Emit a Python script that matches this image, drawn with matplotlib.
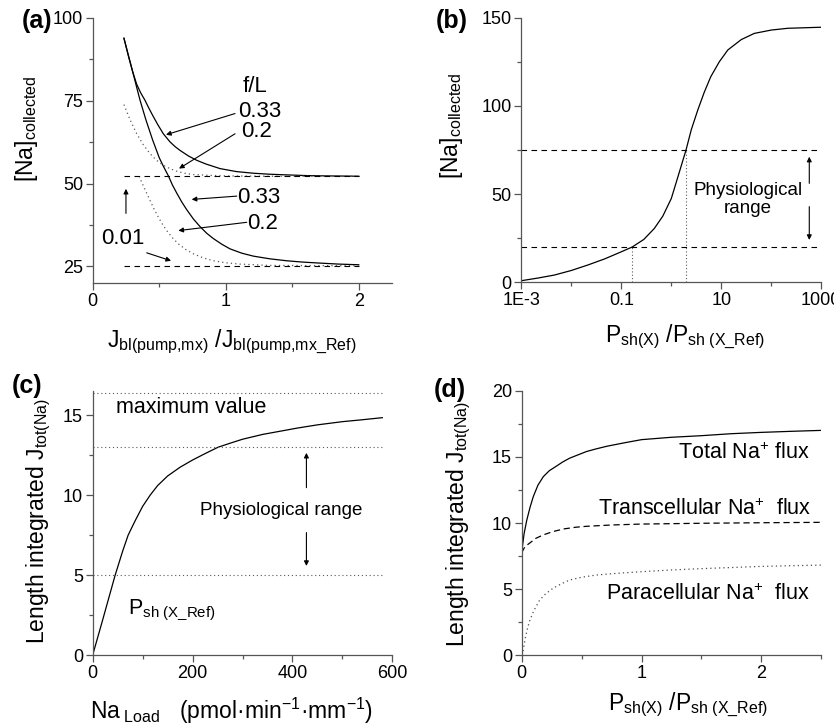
import matplotlib
matplotlib.use('Agg')
import matplotlib.pyplot as plt
from matplotlib.ticker import FixedLocator, FixedFormatter, NullFormatter

plt.rcParams['font.family'] = ['Liberation Sans', 'DejaVu Sans']
plt.rcParams['mathtext.fontset'] = 'custom'
plt.rcParams['mathtext.rm'] = 'Liberation Sans'
plt.rcParams['mathtext.it'] = 'Liberation Sans:italic'
plt.rcParams['mathtext.bf'] = 'Liberation Sans:bold'
plt.rcParams['mathtext.sf'] = 'Liberation Sans'

# ---- panel (a): [Na]collected vs pump ratio
a_hi_solid_x = [0.235, 0.27, 0.30, 0.33, 0.36, 0.393, 0.42, 0.45, 0.49, 0.531, 0.58, 0.62, 0.656,
                0.72, 0.782, 0.85, 0.957, 1.08, 1.208, 1.33, 1.46, 1.6, 1.75, 2.0]
a_hi_solid_y = [93.8, 88.2, 83.8, 80.0, 77.4, 75.1, 72.9, 70.6, 67.7, 65.0, 62.6, 61.1, 60.0,
                58.3, 57.0, 55.9, 54.5, 53.6, 53.1, 52.8, 52.6, 52.4, 52.3, 52.2]
a_lo_solid_x = [0.235, 0.27, 0.30, 0.33, 0.356, 0.40, 0.45, 0.50, 0.53, 0.569, 0.60, 0.632, 0.67,
                0.707, 0.757, 0.807, 0.857, 0.907, 0.97, 1.032, 1.12, 1.208, 1.33, 1.459, 1.58,
                1.709, 1.85, 2.0]
a_lo_solid_y = [93.8, 88.4, 83.8, 79.1, 75.1, 69.2, 63.2, 57.8, 55.3, 52.3, 49.5, 47.1, 44.4,
                42.1, 39.3, 37.0, 35.0, 33.4, 31.7, 30.3, 29.0, 28.1, 27.3, 26.7, 26.3,
                26.0, 25.7, 25.5]
a_hi_dot_x = [0.235, 0.28, 0.331, 0.38, 0.431, 0.48, 0.531, 0.58, 0.632, 0.69, 0.757, 0.88, 1.0, 1.3, 2.0]
a_hi_dot_y = [73.8, 69.3, 65.0, 61.7, 59.0, 57.0, 55.5, 54.5, 53.7, 53.1, 52.7, 52.45, 52.3, 52.2, 52.2]
a_lo_dot_x = [0.35, 0.368, 0.40, 0.431, 0.46, 0.494, 0.525, 0.556, 0.60, 0.644, 0.70, 0.757, 0.83,
              0.907, 1.0, 1.107, 1.33, 2.0]
a_lo_dot_y = [52.2, 50.4, 47.6, 44.9, 42.4, 39.8, 37.7, 35.8, 33.6, 31.8, 30.1, 28.8, 27.6,
              26.7, 26.1, 25.7, 25.3, 25.2]
a_dash_x = [0.235, 2.0]
a_dash_hi = 52.2
a_dash_lo = 25.2

# ---- panel (b): [Na]collected vs Psh ratio
b_x = [0.001, 0.00214, 0.00457, 0.01, 0.0214, 0.0468, 0.1, 0.165, 0.282, 0.457, 0.676, 1.0,
       1.38, 1.97, 2.51, 3.39, 4.57, 6.17, 9.12, 13.5, 25.1, 45.7, 100, 214, 1000]
b_y = [0.9, 2.4, 4.1, 6.7, 9.8, 13.3, 17.3, 20.0, 24.3, 30.5, 37.5, 47.5,
       60.5, 75.0, 86.5, 97.7, 107.8, 116.6, 125.0, 131.7, 137.6, 141.1, 143.0, 144.0, 144.6]
b_range = [20, 75]
b_cross_x = [0.165, 1.97]

# ---- panel (c): length integrated flux vs Na load
c_x = [0, 20, 45, 60, 71, 85, 100, 115, 130, 150, 175, 200, 225, 251, 275, 300, 340, 375,
       410, 450, 500, 540, 580]
c_y = [0, 2.2, 5.0, 6.5, 7.5, 8.4, 9.3, 10.0, 10.6, 11.2, 11.75, 12.2, 12.6, 13.0, 13.25,
       13.5, 13.8, 14.0, 14.2, 14.4, 14.6, 14.72, 14.85]
c_levels = [16.4, 13.0, 5.0]

# ---- panel (d): fluxes vs Psh ratio
d_tot_x = [0, 0.01, 0.02, 0.042, 0.07, 0.097, 0.135, 0.18, 0.23, 0.29, 0.34, 0.40, 0.47, 0.54,
           0.62, 0.71, 0.85, 1.0, 1.25, 1.5, 1.75, 2.0, 2.25, 2.5]
d_tot_y = [7.75, 8.5, 9.2, 10.2, 11.2, 12.0, 12.85, 13.5, 13.95, 14.3, 14.6, 14.9, 15.15, 15.4,
           15.6, 15.8, 16.05, 16.3, 16.48, 16.6, 16.75, 16.85, 16.93, 17.0]
d_trans_x = [0, 0.02, 0.04, 0.069, 0.12, 0.18, 0.26, 0.35, 0.45, 0.54, 0.75, 1.0, 1.5, 2.0, 2.5]
d_trans_y = [7.75, 8.1, 8.3, 8.5, 8.85, 9.1, 9.35, 9.55, 9.68, 9.75, 9.85, 9.92, 9.98, 10.02, 10.05]
d_para_x = [0, 0.013, 0.03, 0.05, 0.069, 0.1, 0.15, 0.2, 0.26, 0.33, 0.40, 0.5, 0.625, 0.8,
            1.0, 1.25, 1.5, 2.0, 2.5]
d_para_y = [0.0, 0.4, 1.3, 2.1, 2.67, 3.35, 4.18, 4.65, 5.06, 5.4, 5.69, 5.9, 6.07, 6.2,
            6.32, 6.45, 6.55, 6.72, 6.82]

W, H = 834.0, 728.0
fig = plt.figure(figsize=(W / 100, H / 100), dpi=100)


def box(l, t, r, b):
    return [l / W, 1 - b / H, (r - l) / W, (b - t) / H]


def ftext(px, py, s, **kw):
    fig.text(px / W, 1 - py / H, s, **kw)


def style(ax):
    for s in ['top', 'right']:
        ax.spines[s].set_visible(False)
    for s in ['left', 'bottom']:
        ax.spines[s].set_color('#555555')
        ax.spines[s].set_linewidth(0.9)
    ax.tick_params(which='both', direction='out', color='#555555', width=0.9,
                   labelsize=13, pad=2)
    ax.tick_params(which='major', length=5)
    ax.tick_params(which='minor', length=3)


def arrow(ax, x0, y0, x1, y1):
    ax.annotate('', xy=(x1, y1), xytext=(x0, y0),
                arrowprops=dict(arrowstyle='-|>', color='k', lw=0.8,
                                mutation_scale=7, shrinkA=0, shrinkB=0))


lw = 0.9
dotted = (0, (1, 2.5))

# (a)
ax = fig.add_axes(box(92.7, 17.7, 392, 283))
style(ax)
ax.plot(a_hi_solid_x, a_hi_solid_y, 'k-', lw=lw)
ax.plot(a_lo_solid_x, a_lo_solid_y, 'k-', lw=lw)
ax.plot(a_hi_dot_x, a_hi_dot_y, color='0.35', ls=dotted, lw=lw)
ax.plot(a_lo_dot_x, a_lo_dot_y, color='0.35', ls=dotted, lw=lw)
ax.plot(a_dash_x, [a_dash_hi] * 2, color='k', ls=(0, (5, 4)), lw=0.8)
ax.plot(a_dash_x, [a_dash_lo] * 2, color='k', ls=(0, (5, 4)), lw=0.8)
ax.set_xlim(0, 2.25)
ax.set_ylim(20, 100)
ax.xaxis.set_major_locator(FixedLocator([0, 1, 2]))
ax.xaxis.set_minor_locator(FixedLocator([0.5, 1.5]))
ax.yaxis.set_major_locator(FixedLocator([25, 50, 75, 100]))
ax.yaxis.set_minor_locator(FixedLocator([37.5, 62.5, 87.5]))
tk = dict(fontsize=16, ha='center', va='center')
ax.text(1.22, 79.3, 'f/L', **tk)
ax.text(1.258, 71.6, '0.33', **tk)
ax.text(1.233, 65.8, '0.2', **tk)
ax.text(1.248, 45.9, '0.33', **tk)
ax.text(1.277, 37.8, '0.2', **tk)
ax.text(0.23, 33.5, '0.01', **tk)
arrow(ax, 1.07, 71.1, 0.551, 64.7)
arrow(ax, 1.07, 65.0, 0.649, 54.5)
arrow(ax, 1.083, 46.2, 0.744, 45.2)
arrow(ax, 1.158, 38.3, 0.644, 35.8)
arrow(ax, 0.406, 29.1, 0.589, 26.7)
arrow(ax, 0.25, 41.0, 0.25, 48.4)

# (b)
ax = fig.add_axes(box(521.3, 17.7, 821.3, 282.3))
style(ax)
ax.set_xscale('log')
ax.plot(b_x, b_y, 'k-', lw=lw)
for lvl in b_range:
    ax.plot([1e-3, 1e3], [lvl, lvl], color='k', ls=(0, (5, 4)), lw=0.8)
for cx, cy in zip(b_cross_x, b_range):
    ax.plot([cx, cx], [0, cy], color='0.35', ls=(0, (1, 2)), lw=0.8)
ax.set_xlim(1e-3, 1e3)
ax.set_ylim(0, 150)
ax.xaxis.set_major_locator(FixedLocator([1e-3, 0.1, 10, 1000]))
ax.xaxis.set_major_formatter(FixedFormatter(['1E-3', '0.1', '10', '1000']))
ax.xaxis.set_minor_locator(FixedLocator([0.01, 1, 100]))
ax.xaxis.set_minor_formatter(NullFormatter())
ax.yaxis.set_major_locator(FixedLocator([0, 50, 100, 150]))
ax.yaxis.set_minor_locator(FixedLocator([25, 75, 125]))
ax.text(33.9, 47.0, 'Physiological\nrange', fontsize=13.5, ha='center',
        va='center', linespacing=1.1)
arrow(ax, 575, 56.1, 575, 71.2)
arrow(ax, 575, 42.9, 575, 24.0)

# (c)
ax = fig.add_axes(box(92.7, 391.3, 392.3, 655))
style(ax)
ax.plot(c_x, c_y, 'k-', lw=lw)
for lvl in c_levels:
    ax.plot([0, 580], [lvl, lvl], color='0.35', ls=dotted, lw=0.8)
ax.set_xlim(0, 600)
ax.set_ylim(0, 16.5)
ax.xaxis.set_major_locator(FixedLocator([0, 200, 400, 600]))
ax.xaxis.set_minor_locator(FixedLocator([100, 300, 500]))
ax.yaxis.set_major_locator(FixedLocator([0, 5, 10, 15]))
ax.yaxis.set_minor_locator(FixedLocator([2.5, 7.5, 12.5]))
ax.text(46.6, 15.46, 'maximum value', fontsize=15.5, ha='left', va='center')
ax.text(377, 9.07, 'Physiological range', fontsize=13.5, ha='center', va='center')
ax.text(71, 2.55, r'P$_{\mathregular{sh\ (X\_Ref)}}$', fontsize=15.5,
        ha='left', va='baseline')
arrow(ax, 428, 10.47, 428, 12.65)
arrow(ax, 428, 7.66, 428, 5.57)

# (d)
ax = fig.add_axes(box(521.7, 390.7, 821.3, 655.3))
style(ax)
ax.plot(d_tot_x, d_tot_y, 'k-', lw=lw)
ax.plot(d_trans_x, d_trans_y, color='k', ls=(0, (5, 3)), lw=lw)
ax.plot(d_para_x, d_para_y, color='0.3', ls=dotted, lw=lw)
ax.set_xlim(0, 2.5)
ax.set_ylim(0, 20)
ax.xaxis.set_major_locator(FixedLocator([0, 1, 2]))
ax.xaxis.set_minor_locator(FixedLocator([0.5, 1.5, 2.5]))
ax.yaxis.set_major_locator(FixedLocator([0, 5, 10, 15, 20]))
ax.yaxis.set_minor_locator(FixedLocator([2.5, 7.5, 12.5, 17.5]))
dk = dict(fontsize=15.5, ha='right', va='center')
ax.text(2.41, 15.26, r'Total Na$^{\mathregular{+}}$ flux', **dk)
ax.text(2.42, 11.06, r'Transcellular Na$^{\mathregular{+}}$  flux', **dk)
ax.text(2.40, 4.63, r'Paracellular Na$^{\mathregular{+}}$  flux', **dk)

# panel letters
for px, py, s in [(37, 21, '(a)'), (451.5, 21, '(b)'), (27.5, 386.5, '(c)'), (450, 390.5, '(d)')]:
    ftext(px, py, s, fontsize=18, fontweight='bold', ha='center', va='center')

# axis labels
lab = 16.5
ftext(27, 129, r'[Na]$_{\mathregular{collected}}$', fontsize=lab, rotation=90, ha='center', va='center')
ftext(452, 126, r'[Na]$_{\mathregular{collected}}$', fontsize=lab, rotation=90, ha='center', va='center')
ftext(39, 521, r'Length integrated J$_{\mathregular{tot(Na)}}$', fontsize=lab, rotation=90, ha='center', va='center')
ftext(459, 524, r'Length integrated J$_{\mathregular{tot(Na)}}$', fontsize=lab, rotation=90, ha='center', va='center')
ftext(232, 342, r'J$_{\mathregular{bl(pump{,}mx)}}$ /J$_{\mathregular{bl(pump{,}mx\_Ref)}}$', fontsize=lab, ha='center', va='center')
ftext(685, 337, r'P$_{\mathregular{sh(X)}}$ /P$_{\mathregular{sh\ (X\_Ref)}}$', fontsize=lab, ha='center', va='center')
ftext(688, 705, r'P$_{\mathregular{sh(X)}}$ /P$_{\mathregular{sh\ (X\_Ref)}}$', fontsize=lab, ha='center', va='center')
ftext(232, 711, r'Na$_{\mathregular{\ Load}}$   (pmol·min$^{\mathregular{-1}}$·mm$^{\mathregular{-1}}$)', fontsize=lab, ha='center', va='center')

fig.savefig('out.png', dpi=100)
